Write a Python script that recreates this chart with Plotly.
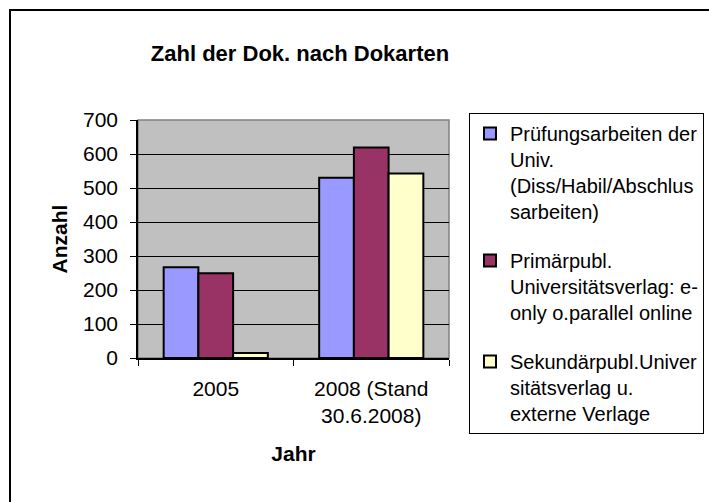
import plotly.graph_objects as go

# ── Données ──────────────────────────────────────────────────────────────
JAHRE = ["2005", "2008 (Stand<br>30.6.2008)"]

SERIEN = [
    "Prüfungsarbeiten der<br>Univ.<br>(Diss/Habil/Abschlus<br>sarbeiten)",
    "Primärpubl.<br>Universitätsverlag: e-<br>only o.parallel online",
    "Sekundärpubl.Univer<br>sitätsverlag u.<br>externe Verlage",
]
PRUEFUNG = [267, 530]
PRIMAER = [249, 619]
SEKUNDAER = [15, 543]

Y_TICKS = [0, 100, 200, 300, 400, 500, 600, 700]

# ── Style ────────────────────────────────────────────────────────────────
_FONT = "Liberation Sans, Arial, sans-serif"
_COLORS = ["#9999FF", "#993366", "#FFFFCC"]
_PLOT_BG = "#C0C0C0"

W, H = 709, 502
L, R, T, B = 138, 260, 120, 144
PW, PH = W - L - R, H - T - B


def px_x(x):
    return (x - L) / PW


def px_y(y):
    return (H - B - y) / PH


fig = go.Figure()
for name, vals, col in zip(SERIEN, [PRUEFUNG, PRIMAER, SEKUNDAER], _COLORS):
    fig.add_trace(go.Bar(
        x=JAHRE,
        y=vals,
        name=name,
        legendgroup=name,
        marker=dict(color=col, line=dict(color="black", width=2)),
    ))

# cadre de la zone de tracé (gris) et cadre extérieur (noir)
fig.add_shape(type="rect", xref="paper", yref="paper", x0=0, x1=1, y0=0, y1=1,
              line=dict(color="#808080", width=1.5), layer="below")
fig.add_shape(type="rect", xref="paper", yref="paper",
              x0=px_x(10), x1=px_x(730), y0=px_y(530), y1=px_y(10),
              line=dict(color="black", width=2))

fig.update_layout(
    width=W,
    height=H,
    margin=dict(l=L, r=R, t=T, b=B, autoexpand=False),
    paper_bgcolor="white",
    plot_bgcolor=_PLOT_BG,
    font=dict(family=_FONT, size=21, color="black"),
    title=dict(
        text="<b>Zahl der Dok. nach Dokarten</b>",
        font=dict(size=22, family=_FONT, color="black"),
        x=300 / W, xanchor="center",
        y=1 - 53 / H, yanchor="middle",
    ),
    barmode="group",
    bargap=0.33,
    bargroupgap=0,
    showlegend=True,
    legend=dict(
        x=px_x(469), xanchor="left",
        y=px_y(113), yanchor="top",
        bgcolor="white",
        bordercolor="black",
        borderwidth=1,
        font=dict(size=20, family=_FONT, color="black"),
        valign="top",
        traceorder="grouped",
        tracegroupgap=20,
        maxheight=420,
    ),
    xaxis=dict(
        type="category",
        showline=True, linecolor="black", linewidth=1.5,
        ticks="outside", tickson="boundaries", ticklen=6, tickcolor="black",
        ticklabelstandoff=11,
        tickfont=dict(size=21),
        showgrid=False,
        title=dict(text="<b>Jahr</b>", font=dict(size=21), standoff=20),
    ),
    yaxis=dict(
        range=[0, 700],
        tickvals=Y_TICKS,
        showline=True, linecolor="black", linewidth=1.5,
        ticks="outside", ticklen=6, tickcolor="black",
        ticklabelstandoff=8,
        tickfont=dict(size=21),
        showgrid=True, gridcolor="black", gridwidth=1,
        zeroline=False,
        title=dict(text="<b>Anzahl</b>", font=dict(size=21), standoff=10),
    ),
)

fig.write_html(
    "out.html",
    config={"displayModeBar": False},
    post_script="document.body.style.margin='0';",
)
